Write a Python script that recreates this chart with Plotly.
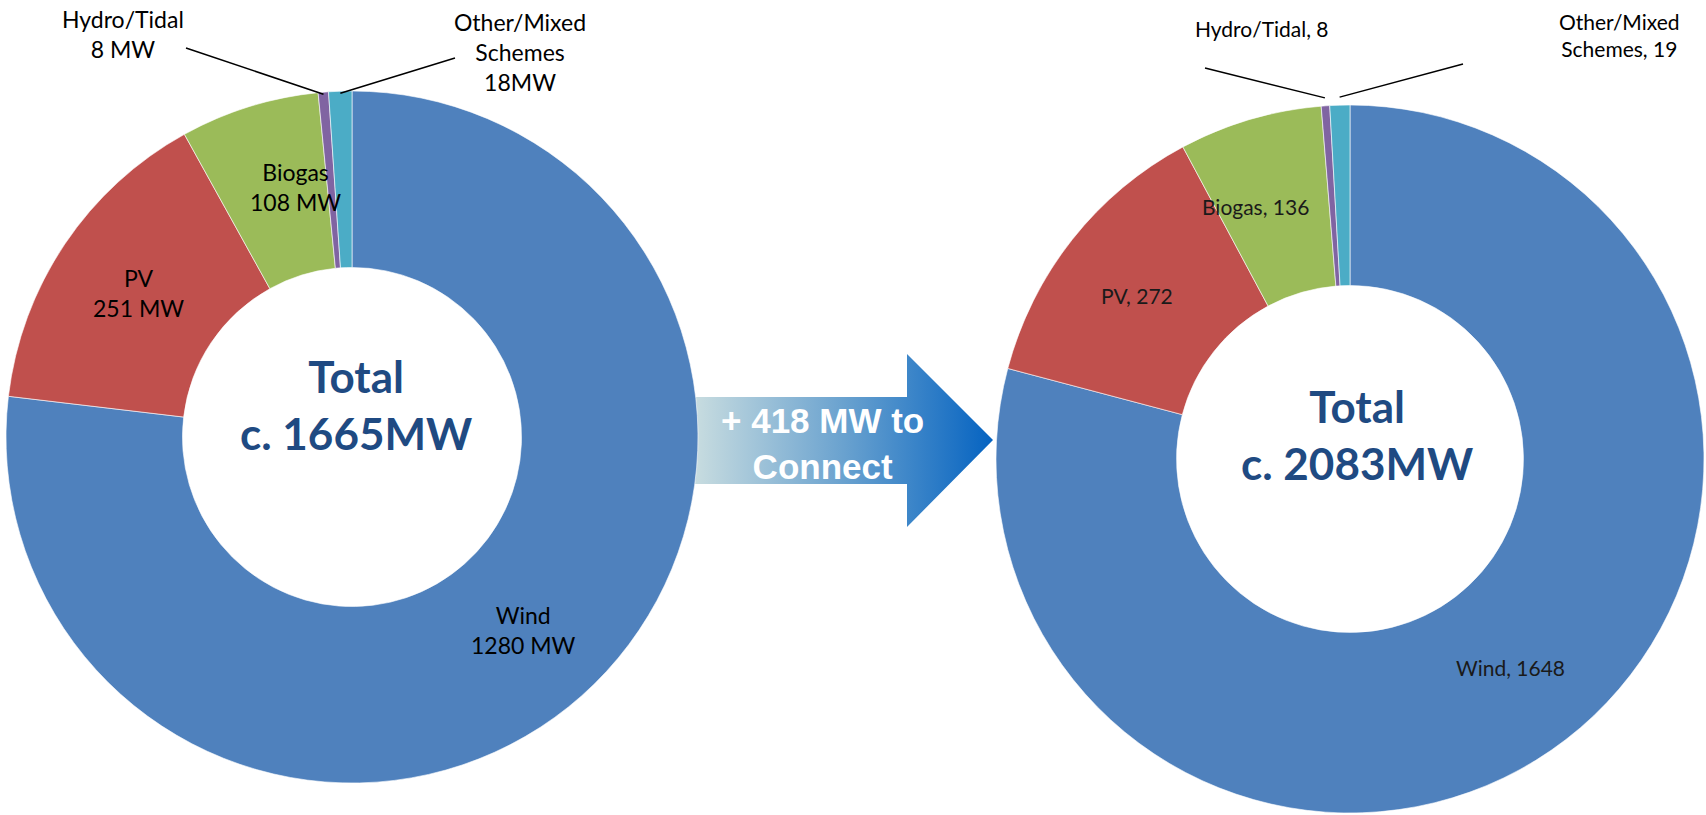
import math
import plotly.graph_objects as go

# ---------------- data ----------------
categories = ["Wind", "PV", "Biogas", "Hydro/Tidal", "Other/Mixed Schemes"]
current_mw = [1280, 251, 108, 8, 18]
future_mw = [1648, 272, 136, 8, 19]
current_labels = ["Wind<br>1280 MW", "PV<br>251 MW", "Biogas<br>108 MW",
                  "Hydro/Tidal<br>8 MW", "Other/Mixed<br>Schemes<br>18MW"]
future_labels = ["Wind, 1648", "PV, 272", "Biogas, 136",
                 "Hydro/Tidal, 8", "Other/Mixed<br>Schemes, 19"]
current_total_text = "Total<br>c. 1665MW"
future_total_text = "Total<br>c. 2083MW"
arrow_text = "+ 418 MW to<br>Connect"

colors = ["#4F81BD", "#C0504D", "#9BBB59", "#8064A2", "#4BACC6"]

# ---------------- layout geometry (pixels) ----------------
W, H = 1706, 815
HOLE = 0.49
LEFT = dict(cx=352, cy=437, r=346)
RIGHT = dict(cx=1350, cy=459, r=354)
FONT = "Lato, 'Open Sans', sans-serif"
TOTAL_COLOR = "#1F4A82"
# small manual nudges (pixels) of inside labels, like the hand-placed originals
LEFT_NUDGE = [(0, 0), (0, 0), (20, -4)]
RIGHT_NUDGE = [(0, 0), (-6, 0), (-20, 0)]


def domain(g):
    return dict(x=[(g["cx"] - g["r"]) / W, (g["cx"] + g["r"]) / W],
                y=[(H - g["cy"] - g["r"]) / H, (H - g["cy"] + g["r"]) / H])


def mid_angles(vals):
    tot = sum(vals)
    out, cum = [], 0
    for v in vals:
        out.append((cum + v / 2) / tot * 360)
        cum += v
    return out


def polar(g, rr, deg):
    a = math.radians(deg)
    return g["cx"] + rr * math.sin(a), g["cy"] - rr * math.cos(a)


fig = go.Figure()

# arrow with horizontal gradient
ax_pts = [693, 907, 907, 993, 907, 907, 693, 693]
ay_pts = [397, 397, 354, 440, 527, 484, 484, 397]
fig.add_trace(go.Scatter(
    x=ax_pts, y=ay_pts, mode="lines", fill="toself", line=dict(width=0),
    fillgradient=dict(type="horizontal",
                      colorscale=[[0, "#C9DDE0"], [0.5, "#6AA2CF"], [1, "#0563C1"]]),
    hoverinfo="skip", showlegend=False))

for vals, g in [(current_mw, LEFT), (future_mw, RIGHT)]:
    fig.add_trace(go.Pie(
        labels=categories, values=vals, sort=False, direction="clockwise",
        rotation=0, hole=HOLE, domain=domain(g), textinfo="none",
        marker=dict(colors=colors, line=dict(color="white", width=0.6)),
        showlegend=False, hoverinfo="label+value"))

annotations = []
shapes = []

# inside labels
for vals, g, labs, size, col, nudge in [
        (current_mw, LEFT, current_labels, 23, "#000000", LEFT_NUDGE),
        (future_mw, RIGHT, future_labels, 21, "#1A1A1A", RIGHT_NUDGE)]:
    mids = mid_angles(vals)
    rm = g["r"] * (1 + HOLE) / 2
    for i in range(3):
        x, y = polar(g, rm, mids[i])
        annotations.append(dict(x=x + nudge[i][0], y=y + nudge[i][1], xref="x", yref="y",
                                text=labs[i], showarrow=False,
                                font=dict(family=FONT, size=size, color=col)))

# outside labels with leader lines
outside = [
    # (values, geom, labels, idx, text centre, line start, radial offset, font size)
    (current_mw, LEFT, current_labels, 3, (123, 34), (186, 48), -2, 23),
    (current_mw, LEFT, current_labels, 4, (520, 52), (455, 58), -2, 23),
    (future_mw, RIGHT, future_labels, 3, (1262, 28), (1205, 68), 8, 21),
    (future_mw, RIGHT, future_labels, 4, (1619, 35), (1463, 64), 8, 21),
]
for vals, g, labs, i, tc, ls, off, size in outside:
    mids = mid_angles(vals)
    ex, ey = polar(g, g["r"] + off, mids[i])
    annotations.append(dict(x=tc[0], y=tc[1], xref="x", yref="y", text=labs[i],
                            showarrow=False, font=dict(family=FONT, size=size, color="#000000")))
    shapes.append(dict(type="line", xref="x", yref="y", x0=ls[0], y0=ls[1], x1=ex, y1=ey,
                       line=dict(color="black", width=1.5), layer="above"))

# totals
annotations.append(dict(x=356, y=404, xref="x", yref="y", text=current_total_text,
                        showarrow=False,
                        font=dict(family=FONT, size=44, color=TOTAL_COLOR, weight="bold")))
annotations.append(dict(x=1357, y=434, xref="x", yref="y", text=future_total_text,
                        showarrow=False,
                        font=dict(family=FONT, size=44, color=TOTAL_COLOR, weight="bold")))

# arrow text
annotations.append(dict(x=822, y=443, xref="x", yref="y", text=arrow_text, showarrow=False,
                        font=dict(family="'Liberation Sans', Arial, sans-serif", size=35,
                                  color="white", weight="bold")))

fig.update_layout(
    width=W, height=H, margin=dict(l=0, r=0, t=0, b=0),
    paper_bgcolor="white", plot_bgcolor="rgba(0,0,0,0)",
    xaxis=dict(range=[0, W], visible=False, fixedrange=True, domain=[0, 1]),
    yaxis=dict(range=[H, 0], visible=False, fixedrange=True, domain=[0, 1]),
    annotations=annotations, shapes=shapes, showlegend=False,
)

fig.write_html("out.html", config={"displayModeBar": False},
               post_script="document.body.style.margin='0';"
                           "document.body.style.overflow='hidden';")
